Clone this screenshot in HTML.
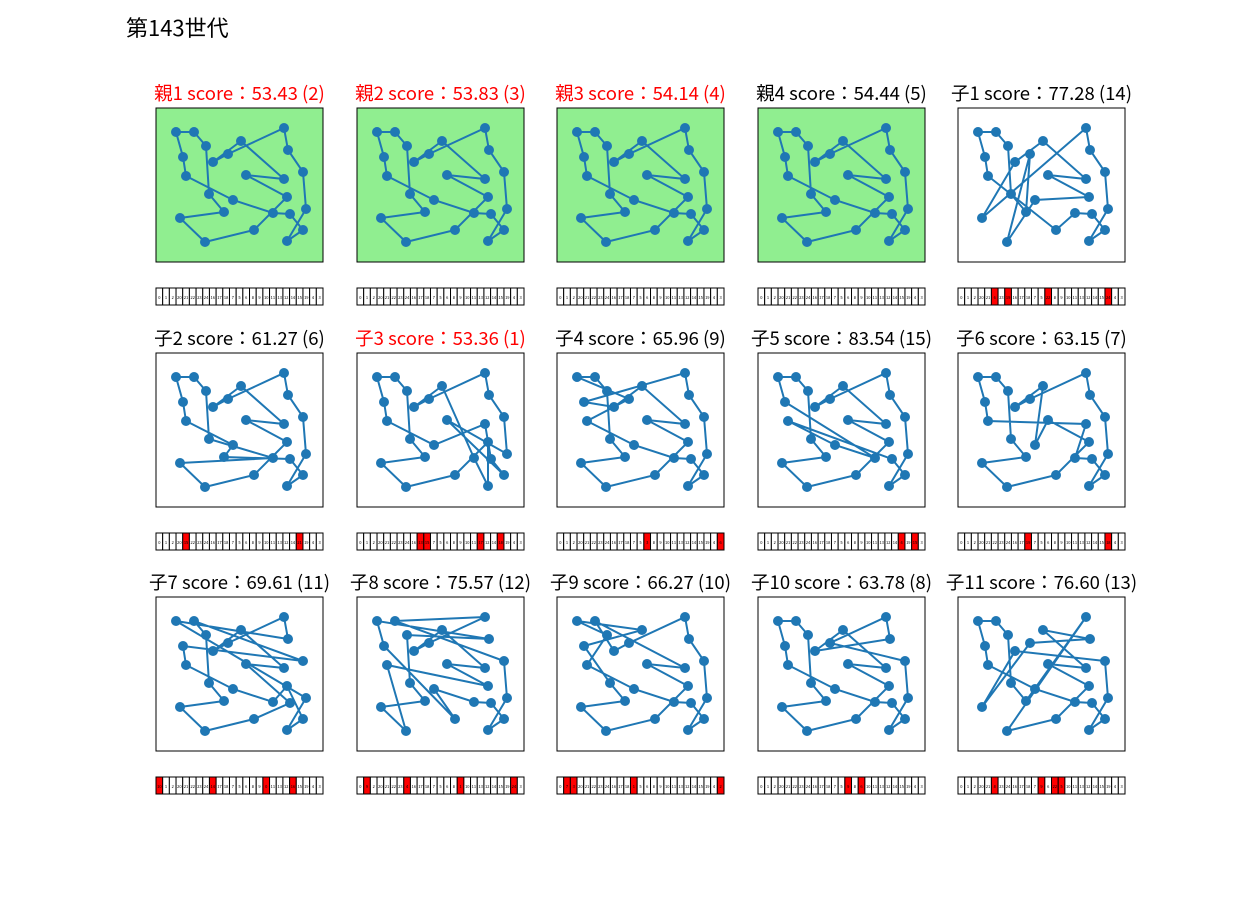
<!DOCTYPE html>
<html><head><meta charset="utf-8">
<style>
body{margin:0;background:#fff;}
svg{display:block;font-family:"Noto Sans CJK JP","Liberation Sans",sans-serif;}
</style></head>
<body>
<svg id="fig" width="1250" height="900" viewBox="0 0 1250 900">
<rect width="1250" height="900" fill="#fff"/>
<text x="126" y="36" font-size="22" fill="#000">第143世代</text>
</svg>
<script>
const cityX=[176,194,206,183,186,213,228,241,284,288,303,306,303,287,290,273,287,246,284,233,209,224,180,205,254];
const cityY=[132,132,146,157,176,162,154,141,128,150,172,209,230,241,214,213,197,175,179,200,194,212,218,242,230];
const titles=["親1 score：53.43 (2)","親2 score：53.83 (3)","親3 score：54.14 (4)","親4 score：54.44 (5)","子1 score：77.28 (14)",
"子2 score：61.27 (6)","子3 score：53.36 (1)","子4 score：65.96 (9)","子5 score：83.54 (15)","子6 score：63.15 (7)",
"子7 score：69.61 (11)","子8 score：75.57 (12)","子9 score：66.27 (10)","子10 score：63.78 (8)","子11 score：76.60 (13)"];
const redTitle=[1,1,1,0,0,0,1,0,0,0,0,0,0,0,0];
const parentFlag=[1,1,1,1,0,0,0,0,0,0,0,0,0,0,0];
const base=[0,1,2,20,21,22,23,24,16,17,18,7,5,6,8,9,10,11,13,12,14,15,19,4,3];
const tours=[base,base,base,base,
[0,1,2,20,21,6,23,19,16,17,18,7,5,22,8,9,10,11,13,12,14,15,24,4,3],
[0,1,2,20,15,22,23,24,16,17,18,7,5,6,8,9,10,11,13,12,14,21,19,4,3],
[0,1,2,20,21,22,23,24,16,13,15,7,5,6,8,9,10,11,17,12,14,18,19,4,3],
[0,1,2,20,21,22,23,24,16,17,18,7,5,3,8,9,10,11,13,12,14,15,19,4,6],
[0,1,2,20,21,22,23,24,16,17,18,7,5,6,8,9,10,11,13,12,14,4,19,15,3],
[0,1,2,20,21,22,23,24,16,17,19,7,5,6,8,9,10,11,13,12,14,15,18,4,3],
[10,1,2,20,21,22,23,24,14,17,18,7,5,6,8,9,0,11,13,12,16,15,19,4,3],
[0,9,2,20,21,22,23,4,16,17,18,7,5,6,8,1,10,11,13,12,14,15,19,24,3],
[0,7,3,20,21,22,23,24,16,17,18,1,5,6,8,9,10,11,13,12,14,15,19,4,2],
[0,1,2,20,21,22,23,24,16,17,18,7,5,9,8,6,10,11,13,12,14,15,19,4,3],
[0,1,2,20,21,8,23,24,16,17,18,7,9,6,22,5,10,11,13,12,14,15,19,4,3]];
const redGenes=[[],[],[],[],[5,7,13,22],[4,21],[9,10,18,21],[13,24],[21,23],[10,22],[0,8,16,20],[1,7,15,23],[1,2,11,24],[13,15],[5,12,14,15]];

const NS="http://www.w3.org/2000/svg";
const svg=document.getElementById('fig');
function mk(t,a,p){const e=document.createElementNS(NS,t);for(const k in a)e.setAttribute(k,a[k]);(p||svg).appendChild(e);return e;}
const colX=[156,357,557,758,958], rowY=[108,353,597], W=167,H=154;
for(let i=0;i<15;i++){
  const px=colX[i%5], py=rowY[Math.floor(i/5)];
  const g=mk('g',{});
  
  
  const tt=mk('text',{x:px+W/2,y:py-8,'font-size':18.5,'text-anchor':'middle',fill:redTitle[i]?'#ff0000':'#000'},g);
  tt.textContent=titles[i];
  
  
  const bg=mk('rect',{x:px,y:py,width:W,height:H,fill:parentFlag[i]?'#90ee90':'#fff',stroke:'#000','stroke-width':1},g);
  
  
  const tour=tours[i];
  const pts=tour.map(c=>(px+cityX[c]-156)+','+(py+cityY[c]-108));
  pts.push(pts[0]);
  const pl=mk('polyline',{points:pts.join(' '),fill:'none',stroke:'#1f77b4','stroke-width':2},g);
  
  
  for(let c=0;c<cityX.length;c++){
    const d=mk('circle',{cx:px+cityX[c]-156,cy:py+cityY[c]-108,r:5,fill:'#1f77b4'},g);
    
    
  }
  const by=py+180, bh=17, cw=W/25;
  const bar=mk('g',{},g);
  
  
  for(let k=0;k<25;k++){
    const red=redGenes[i].indexOf(k)>=0;
    const r=mk('rect',{x:px+k*cw,y:by,width:cw,height:bh,fill:red?'#ff0000':'#fff',stroke:'#000','stroke-width':1},bar);
    
    
    const t=mk('text',{x:px+k*cw+cw/2,y:by+11,'font-size':4,'text-anchor':'middle',fill:'#000'},bar);
    t.textContent=tour[k];
    
    
  }
}
</script>
</body></html>
